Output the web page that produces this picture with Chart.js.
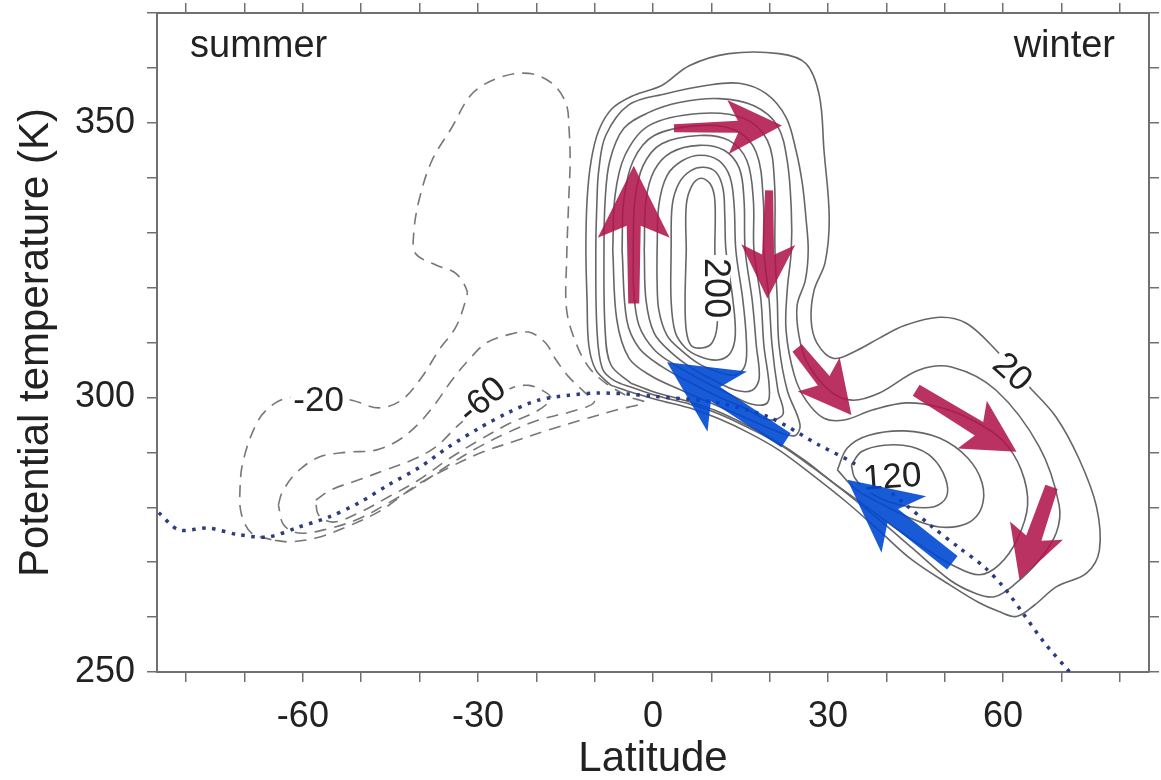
<!DOCTYPE html>
<html>
<head>
<meta charset="utf-8">
<script src="https://cdn.jsdelivr.net/npm/chart.js@4.4.0/dist/chart.umd.min.js"></script>
<style>
  html, body { margin: 0; padding: 0; background: #fff; }
</style>
</head>
<body>
<canvas id="chart" width="1161" height="780"></canvas>
<script>
// axes
var latTicks = [-80, -70, -60, -50, -40, -30, -20, -10, 0, 10, 20, 30, 40, 50, 60, 70, 80];
var thetaTicks = [250, 260, 270, 280, 290, 300, 310, 320, 330, 340, 350, 360, 370];
var latLabels = [-60, -30, 0, 30, 60];
var thetaLabels = [250, 300, 350];

// dotted curve [lat, theta]
var dottedCurve = [[-84.7,279.0],[-81.3,275.9],[-76.2,276.2],[-71.0,275.0],[-65.9,274.6],[-60.7,276.4],
  [-55.6,278.2],[-50.4,280.8],[-45.3,284.1],[-40.1,287.2],[-35.0,291.0],[-29.8,294.4],[-24.7,297.3],
  [-19.6,299.5],[-14.4,300.4],[-9.3,300.8],[-4.1,300.6],[0.0,300.2],[7.9,299.5],[11.3,299.0],[19.9,296.4],
  [28.5,291.3],[34.1,288.2],[37.6,285.5],[43.4,280.4],[47.9,276.4],[52.5,272.6],[56.8,269.1],[60.2,265.3],
  [63.6,260.4],[67.1,255.3],[71.4,250.0]];

// positive contours (solid)
var c20 = [[-7.2,302.2],[-9.8,305.0],[-11.0,309.5],[-11.3,317.7],[-11.5,326.8],[-11.3,335.9],[-10.6,343.1],
  [-9.3,348.6],[-7.0,352.6],[-3.3,355.0],[1.5,356.8],[6.2,360.4],[13.0,362.6],[21.6,362.6],[26.2,360.8],
  [28.5,355.0],[29.3,345.0],[30.2,332.8],[29.5,324.6],[27.6,319.5],[27.1,314.1],[28.1,309.9],[31.0,307.1],
  [35.0,308.6],[38.8,310.8],[43.1,313.1],[49.1,314.6],[53.7,313.5],[58.8,308.6],[64.5,301.9],[69.1,296.4],
  [73.1,288.6],[76.0,280.1],[76.5,272.2],[74.3,268.0],[69.1,265.5],[65.4,262.2],[62.3,260.1],[59.3,261.0],
  [55.9,262.6],[50.8,265.9],[44.4,270.4],[38.8,275.7],[33.1,281.0],[27.3,285.9],[21.6,290.4],[16.5,293.5],
  [11.3,296.1],[6.2,298.1],[1.0,299.5],[-3.3,300.8]];
var c40 = [[-3.3,301.7],[-6.7,303.1],[-8.7,305.3],[-9.6,312.2],[-9.8,326.8],[-9.6,335.9],[-9.3,341.3],
  [-8.1,347.7],[-4.1,353.3],[2.2,355.3],[9.1,356.8],[14.8,357.2],[19.4,355.3],[22.8,351.0],[24.5,345.0],
  [25.6,338.9],[26.2,332.8],[26.6,326.8],[26.1,321.3],[24.7,316.8],[25.0,311.3],[26.4,306.4],[30.2,301.3],
  [34.1,299.5],[38.8,300.8],[45.6,305.0],[51.3,305.5],[58.8,301.3],[66.2,291.0],[69.6,280.4],[69.1,275.3],
  [66.2,270.4],[61.9,265.9],[58.5,263.7],[55.1,264.4],[50.8,266.8],[44.4,272.6],[38.8,277.7],[33.1,282.6],
  [27.3,287.3],[21.6,291.5],[16.5,294.4],[11.3,297.0],[6.2,298.8],[1.0,300.2]];
var c60 = [[-3.8,302.6],[-7.2,305.9],[-8.2,312.2],[-8.4,326.8],[-8.2,335.9],[-7.4,343.1],[-5.0,349.0],
  [-0.7,351.9],[4.5,353.7],[11.3,354.4],[17.3,353.1],[21.3,349.5],[23.0,343.1],[23.7,334.1],[23.7,326.8],
  [23.0,319.5],[22.8,312.2],[24.2,304.1],[26.2,299.5],[29.3,296.2],[32.8,295.9],[37.6,297.7],[43.4,299.0],
  [49.1,298.2],[54.7,295.9],[59.9,292.2],[63.1,286.8],[64.2,280.4],[62.4,274.1],[59.3,269.5],[55.9,267.7],
  [51.6,269.3],[46.5,272.6],[41.3,276.4],[36.2,280.4],[31.0,284.4],[25.9,288.6],[20.8,292.2],[15.6,295.2],
  [10.5,297.7],[5.3,299.5],[0.2,301.0]];
var c80 = [[-6.9,326.8],[-6.5,336.8],[-4.8,344.1],[-0.7,349.5],[7.9,351.7],[15.6,350.8],[19.6,346.8],
  [20.8,339.5],[20.9,326.8],[21.3,317.7],[21.6,309.5],[23.0,301.3],[25.2,295.0],[24.2,293.0],[19.9,294.4],
  [14.8,296.8],[9.6,299.1],[4.5,301.5],[-0.3,303.9],[-4.1,307.1],[-6.2,314.1]];
var c100 = [[-5.3,326.8],[-5.0,335.9],[-3.4,343.1],[0.2,347.7],[7.9,349.5],[14.2,348.6],[17.7,344.6],
  [18.9,335.9],[19.0,326.8],[19.9,317.7],[20.4,309.5],[21.4,301.3],[22.3,297.0],[19.9,295.9],[15.6,298.1],
  [11.0,300.2],[6.2,302.8],[1.4,305.7],[-2.4,309.0],[-4.5,314.1]];
var c120 = [[-3.4,326.8],[-3.1,335.9],[-1.7,342.2],[1.5,346.2],[7.9,347.7],[13.0,346.8],[16.1,343.1],
  [17.2,335.9],[17.3,326.8],[18.5,317.7],[19.0,309.5],[19.9,302.2],[19.6,299.0],[16.8,298.8],[12.7,300.8],
  [8.4,303.1],[4.1,305.7],[0.3,308.6],[-2.4,313.1],[-3.3,319.5]];
var c140 = [[-1.5,326.8],[-1.2,335.9],[0.2,341.3],[3.1,344.6],[7.9,345.9],[12.2,345.0],[14.8,341.7],
  [15.6,335.9],[15.8,326.8],[17.0,317.7],[17.7,309.5],[18.2,303.5],[17.0,301.3],[14.2,301.3],[10.5,303.1],
  [6.7,305.3],[3.1,308.2],[0.2,311.7],[-1.2,317.7]];
var c160 = [[0.7,326.8],[1.0,335.0],[2.4,340.4],[5.0,343.1],[8.2,344.1],[11.3,343.1],[13.2,340.1],
  [13.9,335.0],[14.2,326.8],[15.4,317.7],[16.0,310.4],[15.8,305.9],[14.2,304.1],[11.3,304.6],[7.9,306.1],
  [4.8,308.6],[2.4,311.3],[1.0,315.9],[0.7,321.3]];
var c180 = [[3.1,326.8],[3.3,335.0],[4.5,339.1],[6.5,341.3],[8.7,341.9],[10.8,341.0],[12.0,338.0],
  [12.3,333.1],[12.5,326.8],[13.7,317.7],[14.1,311.3],[13.2,308.0],[11.0,306.8],[7.9,307.5],[5.5,309.1],
  [3.8,311.9],[3.1,317.7]];
var c200 = [[5.7,326.8],[5.7,335.0],[6.7,338.6],[8.2,339.9],[9.8,338.9],[10.6,335.9],[10.6,326.8],
  [10.8,317.7],[11.0,313.1],[10.1,309.9],[8.4,309.0],[6.5,309.5],[5.7,312.2],[5.5,317.7]];
// winter mid-latitude cell
var c100b = [[31.6,286.8],[33.3,290.8],[37.0,293.1],[43.1,293.9],[49.1,292.6],[53.9,289.0],[56.4,284.4],
  [56.3,279.9],[53.9,277.1],[49.1,276.4],[43.9,278.1],[38.8,280.8],[34.5,283.5]];
var c120b = [[34.0,287.7],[35.7,290.1],[39.6,291.3],[44.3,291.0],[47.9,289.0],[50.1,285.3],[50.3,281.9],
  [48.2,280.1],[43.9,280.1],[39.6,281.3],[36.2,283.5],[34.5,285.5]];

// negative contours (dashed)
var n20 = [[-65.4,274.1],[-68.8,275.3],[-70.5,278.6],[-70.8,282.6],[-70.2,288.6],[-67.6,295.9],[-64.7,299.0],
  [-61.6,300.1],[-56.4,300.2],[-51.6,299.5],[-47.0,298.1],[-43.1,299.5],[-39.6,303.7],[-36.7,308.6],
  [-33.8,312.8],[-32.1,317.7],[-31.9,319.5],[-33.8,322.6],[-37.2,324.1],[-40.7,326.2],[-41.0,329.9],
  [-40.1,335.9],[-37.9,343.1],[-34.5,349.1],[-31.0,355.3],[-26.4,358.2],[-21.3,359.0],[-17.3,357.2],
  [-14.9,353.5],[-14.4,349.1],[-14.2,343.1],[-14.4,337.1],[-14.8,325.0],[-14.8,315.9],[-13.2,309.9],
  [-11.0,305.5],[-8.1,302.6],[-4.1,300.1],[-1.5,299.1],[-6.3,297.7],[-12.2,295.9],[-17.8,294.1],
  [-23.5,292.1],[-29.3,290.0],[-35.0,287.2],[-40.7,283.9],[-46.5,279.5],[-52.1,276.6],[-57.8,274.4],
  [-62.4,273.7]];
var n40 = [[-64.2,280.4],[-63.6,282.6],[-61.2,286.2],[-57.3,289.1],[-52.7,290.0],[-47.5,290.4],[-43.6,292.2],
  [-40.1,295.3],[-37.2,299.0],[-34.5,303.1],[-31.6,306.8],[-28.6,309.9],[-25.2,311.3],[-21.3,311.9],
  [-18.4,309.9],[-16.6,306.8],[-14.4,303.7],[-11.8,301.0],[-10.1,299.1],[-14.4,297.3],[-19.6,295.9],
  [-24.7,293.7],[-29.8,291.0],[-35.0,287.7],[-40.1,284.1],[-45.3,280.8],[-50.4,277.9],[-55.6,276.1],
  [-60.7,275.3],[-63.3,276.8]];
var n60 = [[-57.8,281.3],[-55.1,283.2],[-50.4,285.0],[-45.8,286.8],[-41.3,288.6],[-37.2,291.0],[-33.3,295.0],
  [-29.0,298.6],[-24.2,301.7],[-21.3,302.2],[-19.0,301.3],[-17.5,299.9],[-19.6,297.7],[-24.7,295.2],
  [-29.8,292.2],[-35.0,288.8],[-40.1,285.0],[-45.3,281.9],[-50.4,279.0],[-54.7,277.3],[-57.3,278.6]];

// contour labels
var labelTexts = ['200', '120', '20', '-20', '-60'];
var labelLats = [10.8, 41.0, 61.6, -57.3, -29.3];
var labelThetas = [319.9, 285.5, 304.6, 299.5, 299.5];

// circulation arrows [lat0, theta0, lat1, theta1]
var pinkArrows = [[-3.3,317.1,-3.3,342.2],[3.6,349.0,22.1,349.5],[19.9,337.7,19.6,318.0],
  [24.7,309.0,34.0,296.8],[45.1,301.3,62.3,290.1],[68.3,283.7,62.8,266.8]];
var blueArrows = [[22.8,292.2,2.4,306.4],[51.3,269.9,33.3,285.0]];

var FONT = '"Liberation Sans", Arial, Helvetica, sans-serif';

function pts(arr, close) {
    var out = arr.map(function(p) { return {x: p[0], y: p[1]}; });
    if (close) out.push({x: arr[0][0], y: arr[0][1]});
    return out;
}

function contour(arr, dashed) {
    return {
        data: pts(arr, true),
        showLine: true,
        pointRadius: 0,
        pointHoverRadius: 0,
        borderColor: dashed ? '#777777' : '#666666',
        borderWidth: 1.6,
        borderDash: dashed ? [12, 8] : [],
        tension: 0.35,
        fill: false
    };
}

// arrow shapes in px: tail width, neck width, head length, head width, notch
var pinkShapes = [[11,14,72,72,12],[8,12,54,54,10],[8,12,54,54,10],[12,15,52,54,8],[13,16,52,56,8],[13,16,52,56,8]];
var blueShapes = [[17,17,72,72,14],[17,17,72,72,14]];
var labelAngles = [90, -4, 42, 0, -40];
var labelSizes = [36, 35, 35, 35, 35];

function drawArrow(c, x0, y0, x1, y1, s) {
    var dx = x1 - x0, dy = y1 - y0, len = Math.sqrt(dx * dx + dy * dy);
    var ux = dx / len, uy = dy / len, nx = -uy, ny = ux;
    var bx = x1 - ux * s[2], by = y1 - uy * s[2];
    var jx = x1 - ux * (s[2] - s[4]), jy = y1 - uy * (s[2] - s[4]);
    c.beginPath();
    c.moveTo(x0 + nx * s[0] / 2, y0 + ny * s[0] / 2);
    c.lineTo(jx + nx * s[1] / 2, jy + ny * s[1] / 2);
    c.lineTo(bx + nx * s[3] / 2, by + ny * s[3] / 2);
    c.lineTo(x1, y1);
    c.lineTo(bx - nx * s[3] / 2, by - ny * s[3] / 2);
    c.lineTo(jx - nx * s[1] / 2, jy - ny * s[1] / 2);
    c.lineTo(x0 - nx * s[0] / 2, y0 - ny * s[0] / 2);
    c.closePath();
    c.fill();
}

var overlay = {
    id: 'overlay',
    afterDatasetsDraw: function(chart) {
        var c = chart.ctx, sx = chart.scales.x, sy = chart.scales.y, a = chart.chartArea;
        c.save();
        // contour labels
        c.textAlign = 'center';
        c.textBaseline = 'middle';
        for (var i = 0; i < labelTexts.length; i++) {
            var px = sx.getPixelForValue(labelLats[i]);
            var py = sy.getPixelForValue(labelThetas[i]);
            c.save();
            c.translate(px, py);
            c.rotate(labelAngles[i] * Math.PI / 180);
            c.font = labelSizes[i] + 'px ' + FONT;
            var w = c.measureText(labelTexts[i]).width;
            c.fillStyle = '#ffffff';
            c.fillRect(-w / 2 - 3, -14, w + 6, 28);
            c.fillStyle = '#222222';
            c.fillText(labelTexts[i], 0, 1);
            c.restore();
        }
        // arrows
        c.fillStyle = 'rgba(175, 22, 75, 0.88)';
        pinkArrows.forEach(function(p, k) {
            drawArrow(c, sx.getPixelForValue(p[0]), sy.getPixelForValue(p[1]),
                sx.getPixelForValue(p[2]), sy.getPixelForValue(p[3]), pinkShapes[k]);
        });
        c.fillStyle = 'rgba(0, 72, 210, 0.9)';
        blueArrows.forEach(function(p, k) {
            drawArrow(c, sx.getPixelForValue(p[0]), sy.getPixelForValue(p[1]),
                sx.getPixelForValue(p[2]), sy.getPixelForValue(p[3]), blueShapes[k]);
        });
        // hemisphere names
        c.fillStyle = '#222222';
        c.font = '38px ' + FONT;
        c.textBaseline = 'alphabetic';
        c.textAlign = 'left';
        c.fillText('summer', a.left + 33, a.top + 44);
        c.textAlign = 'right';
        c.fillText('winter', a.right - 34, a.top + 44);
        c.restore();
    }
};

var axisColor = '#707070';
function tickSet(values) {
    return function(scale) { scale.ticks = values.map(function(v) { return {value: v}; }); };
}
function fixSize(w, h) {
    return function(s) {
        if (w !== null) s.width = w;
        if (h !== null) s.height = h;
        s.paddingTop = 0; s.paddingBottom = 0; s.paddingLeft = 0; s.paddingRight = 0;
    };
}
function baseGrid() {
    return { drawOnChartArea: false, drawTicks: true, tickLength: 10, color: axisColor, lineWidth: 1.5 };
}

var datasets = [
    {
        data: pts(dottedCurve, false),
        showLine: true,
        pointRadius: 0,
        pointHoverRadius: 0,
        borderColor: '#2c3c7e',
        borderWidth: 3.5,
        borderDash: [3.5, 6.5],
        tension: 0.3,
        fill: false
    },
    contour(c20), contour(c40), contour(c60), contour(c80), contour(c100), contour(c120),
    contour(c140), contour(c160), contour(c180), contour(c200), contour(c100b), contour(c120b),
    contour(n20, true), contour(n40, true), contour(n60, true)
];

var ctx = document.getElementById('chart').getContext('2d');
var chart = new Chart(ctx, {
    type: 'scatter',
    data: { datasets: datasets },
    options: {
        responsive: false,
        animation: false,
        layout: { padding: 0 },
        plugins: { legend: { display: false }, tooltip: { enabled: false } },
        scales: {
            x: {
                type: 'linear', position: 'bottom', min: -85, max: 85,
                afterBuildTicks: tickSet(latTicks),
                afterFit: fixSize(null, 108),
                ticks: {
                    autoSkip: false, maxRotation: 0, padding: 13, color: '#222222',
                    font: { family: FONT, size: 36 },
                    callback: function(v) { return latLabels.indexOf(v) >= 0 ? String(v) : ''; }
                },
                grid: baseGrid(),
                border: { display: true, color: axisColor, width: 2 },
                title: { display: true, text: 'Latitude', color: '#222222',
                    font: { family: FONT, size: 42, lineHeight: 1 }, padding: { top: 0, bottom: 0 } }
            },
            x2: {
                type: 'linear', position: 'top', min: -85, max: 85,
                afterBuildTicks: tickSet(latTicks),
                afterFit: fixSize(null, 13),
                ticks: { autoSkip: false, maxRotation: 0, callback: function() { return ''; } },
                grid: baseGrid(),
                border: { display: true, color: axisColor, width: 2 }
            },
            y: {
                type: 'linear', position: 'left', min: 250, max: 370,
                afterBuildTicks: tickSet(thetaTicks),
                afterFit: fixSize(157, null),
                ticks: {
                    autoSkip: false, padding: 12, color: '#222222',
                    font: { family: FONT, size: 36 },
                    callback: function(v) { return thetaLabels.indexOf(v) >= 0 ? String(v) : ''; }
                },
                grid: baseGrid(),
                border: { display: true, color: axisColor, width: 2 },
                title: { display: true, text: 'Potential temperature (K)', color: '#222222',
                    font: { family: FONT, size: 42, lineHeight: 1 }, padding: { top: 15, bottom: 0 } }
            },
            y2: {
                type: 'linear', position: 'right', min: 250, max: 370,
                afterBuildTicks: tickSet(thetaTicks),
                afterFit: fixSize(12, null),
                ticks: { autoSkip: false, callback: function() { return ''; } },
                grid: baseGrid(),
                border: { display: true, color: axisColor, width: 2 }
            }
        }
    },
    plugins: [overlay]
});
</script>
</body>
</html>
